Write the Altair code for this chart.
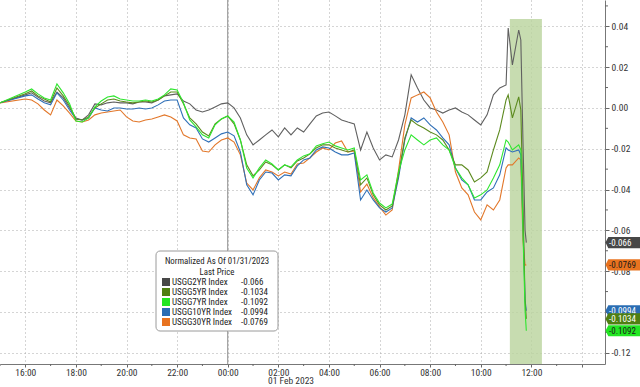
import altair as alt
import pandas as pd

# ---------------- data ----------------
times = [
    "2023-01-31 15:00", "2023-01-31 16:00", "2023-01-31 16:15", "2023-01-31 16:30", "2023-01-31 16:45",
    "2023-01-31 17:00", "2023-01-31 17:15", "2023-01-31 17:30", "2023-01-31 17:45",
    "2023-01-31 18:00", "2023-01-31 18:15", "2023-01-31 18:30", "2023-01-31 18:45",
    "2023-01-31 19:00", "2023-01-31 19:15", "2023-01-31 19:30", "2023-01-31 19:45",
    "2023-01-31 20:00", "2023-01-31 20:15", "2023-01-31 20:30", "2023-01-31 20:45",
    "2023-01-31 21:00", "2023-01-31 21:15", "2023-01-31 21:30", "2023-01-31 21:45",
    "2023-01-31 22:00", "2023-01-31 22:15", "2023-01-31 22:30", "2023-01-31 22:45",
    "2023-01-31 23:00", "2023-01-31 23:15", "2023-01-31 23:30", "2023-01-31 23:45",
    "2023-02-01 00:00", "2023-02-01 00:15", "2023-02-01 00:30", "2023-02-01 00:45",
    "2023-02-01 01:00", "2023-02-01 01:15", "2023-02-01 01:30", "2023-02-01 01:45",
    "2023-02-01 02:00", "2023-02-01 02:15", "2023-02-01 02:30", "2023-02-01 02:45",
    "2023-02-01 03:00", "2023-02-01 03:15", "2023-02-01 03:30", "2023-02-01 03:45",
    "2023-02-01 04:00", "2023-02-01 04:15", "2023-02-01 04:30", "2023-02-01 04:45",
    "2023-02-01 05:00", "2023-02-01 05:15", "2023-02-01 05:30", "2023-02-01 05:45",
    "2023-02-01 06:00", "2023-02-01 06:15", "2023-02-01 06:30", "2023-02-01 06:45",
    "2023-02-01 07:00", "2023-02-01 07:15", "2023-02-01 07:30", "2023-02-01 07:45",
    "2023-02-01 08:00", "2023-02-01 08:15", "2023-02-01 08:30", "2023-02-01 08:45",
    "2023-02-01 09:00", "2023-02-01 09:15", "2023-02-01 09:30", "2023-02-01 09:45",
    "2023-02-01 10:00", "2023-02-01 10:15", "2023-02-01 10:30", "2023-02-01 10:45",
    "2023-02-01 11:00", "2023-02-01 11:05", "2023-02-01 11:15", "2023-02-01 11:30",
    "2023-02-01 11:35", "2023-02-01 11:40", "2023-02-01 11:45", "2023-02-01 11:48",
]

usgg2yr = [
    0.0025, 0.0064, 0.0074, 0.0054, 0.0034, 0.0025, 0.0078, 0.0049, 0.0000,
    -0.0049, -0.0059, -0.0034, 0.0020, 0.0015, 0.0025, 0.0029, 0.0025,
    0.0025, 0.0020, 0.0029, 0.0029, 0.0025, 0.0039, 0.0059, 0.0064,
    0.0069, 0.0034, 0.0020, -0.0010, -0.0020, -0.0010, 0.0005, 0.0020,
    0.0025, 0.0000, -0.0049, -0.0132, -0.0181, -0.0157, -0.0132, -0.0108,
    -0.0142, -0.0098, -0.0132, -0.0098, -0.0118, -0.0078, -0.0039, -0.0025,
    -0.0020, -0.0039, -0.0059, -0.0069, -0.0078, -0.0206, -0.0118, -0.0196,
    -0.0255, -0.0230, -0.0240, -0.0157, -0.0034, 0.0162, 0.0098, 0.0039,
    0.0000, -0.0010, -0.0025, -0.0010, 0.0000, -0.0020, -0.0034, -0.0059,
    -0.0083, -0.0034, 0.0064, 0.0098, 0.0113, 0.0392, 0.0211, 0.0382,
    0.0333, -0.0157, -0.0598, -0.0660,
]
usgg5yr = [
    0.0025, 0.0069, 0.0083, 0.0059, 0.0044, 0.0029, 0.0098, 0.0059, 0.0010,
    -0.0054, -0.0059, -0.0044, 0.0000, 0.0020, 0.0039, 0.0044, 0.0034,
    0.0029, 0.0025, 0.0029, 0.0034, 0.0029, 0.0039, 0.0059, 0.0078,
    0.0078, 0.0020, -0.0049, -0.0078, -0.0118, -0.0137, -0.0078, -0.0054,
    -0.0039, -0.0078, -0.0157, -0.0279, -0.0333, -0.0304, -0.0265, -0.0279,
    -0.0304, -0.0279, -0.0294, -0.0260, -0.0245, -0.0225, -0.0196, -0.0181,
    -0.0181, -0.0196, -0.0206, -0.0216, -0.0206, -0.0377, -0.0343, -0.0426,
    -0.0475, -0.0500, -0.0480, -0.0328, -0.0147, -0.0059, -0.0083, -0.0098,
    -0.0118, -0.0132, -0.0157, -0.0206, -0.0279, -0.0279, -0.0304, -0.0363,
    -0.0343, -0.0314, -0.0206, -0.0108, 0.0039, 0.0064, -0.0049, 0.0054,
    -0.0010, -0.0451, -0.0941, -0.1034,
]
usgg7yr = [
    0.0025, 0.0078, 0.0093, 0.0069, 0.0049, 0.0039, 0.0118, 0.0074, 0.0020,
    -0.0064, -0.0069, -0.0049, 0.0005, 0.0034, 0.0054, 0.0059, 0.0044,
    0.0039, 0.0034, 0.0034, 0.0039, 0.0034, 0.0044, 0.0064, 0.0093,
    0.0088, 0.0025, -0.0059, -0.0093, -0.0132, -0.0147, -0.0083, -0.0054,
    -0.0039, -0.0069, -0.0157, -0.0294, -0.0343, -0.0294, -0.0255, -0.0275,
    -0.0304, -0.0279, -0.0289, -0.0255, -0.0235, -0.0225, -0.0186, -0.0176,
    -0.0167, -0.0186, -0.0196, -0.0206, -0.0196, -0.0353, -0.0328, -0.0417,
    -0.0466, -0.0490, -0.0471, -0.0314, -0.0206, -0.0132, -0.0157, -0.0181,
    -0.0157, -0.0147, -0.0181, -0.0206, -0.0294, -0.0343, -0.0377, -0.0441,
    -0.0426, -0.0402, -0.0343, -0.0279, -0.0157, -0.0167, -0.0206, -0.0181,
    -0.0206, -0.0598, -0.0990, -0.1092,
]
usgg10yr = [
    0.0025, 0.0059, 0.0064, 0.0044, 0.0025, 0.0015, 0.0074, 0.0039, -0.0010,
    -0.0054, -0.0059, -0.0049, 0.0000, -0.0010, -0.0015, 0.0000, 0.0000,
    -0.0005, -0.0005, 0.0000, -0.0005, 0.0000, 0.0015, 0.0034, 0.0039,
    0.0039, -0.0049, -0.0083, -0.0098, -0.0152, -0.0167, -0.0147, -0.0127,
    -0.0118, -0.0137, -0.0216, -0.0377, -0.0426, -0.0353, -0.0314, -0.0319,
    -0.0353, -0.0328, -0.0333, -0.0284, -0.0255, -0.0245, -0.0206, -0.0191,
    -0.0196, -0.0216, -0.0230, -0.0230, -0.0221, -0.0451, -0.0402, -0.0451,
    -0.0490, -0.0510, -0.0490, -0.0343, -0.0157, -0.0049, -0.0069, -0.0049,
    -0.0083, -0.0108, -0.0147, -0.0181, -0.0294, -0.0353, -0.0377, -0.0451,
    -0.0451, -0.0412, -0.0392, -0.0328, -0.0196, -0.0206, -0.0216, -0.0206,
    -0.0230, -0.0549, -0.0941, -0.0994,
]
usgg30yr = [
    0.0025, 0.0044, 0.0039, 0.0020, -0.0010, -0.0034, 0.0039, 0.0010, -0.0025,
    -0.0064, -0.0069, -0.0059, -0.0034, -0.0025, -0.0020, -0.0015, -0.0010,
    -0.0044, -0.0064, -0.0069, -0.0059, -0.0054, -0.0044, -0.0034, -0.0044,
    -0.0064, -0.0132, -0.0147, -0.0152, -0.0211, -0.0216, -0.0181, -0.0157,
    -0.0147, -0.0167, -0.0230, -0.0368, -0.0402, -0.0343, -0.0304, -0.0314,
    -0.0333, -0.0314, -0.0324, -0.0275, -0.0270, -0.0245, -0.0216, -0.0196,
    -0.0206, -0.0172, -0.0162, -0.0216, -0.0211, -0.0412, -0.0373, -0.0441,
    -0.0485, -0.0525, -0.0500, -0.0304, -0.0083, 0.0049, 0.0064, 0.0078,
    0.0049, -0.0020, -0.0069, -0.0132, -0.0314, -0.0392, -0.0426, -0.0510,
    -0.0549, -0.0475, -0.0500, -0.0451, -0.0294, -0.0279, -0.0279, -0.0245,
    -0.0255, -0.0647, -0.0770, -0.0769,
]

series_names = ["USGG2YR Index", "USGG5YR Index", "USGG7YR Index", "USGG10YR Index", "USGG30YR Index"]
series_values = [usgg2yr, usgg5yr, usgg7yr, usgg10yr, usgg30yr]
line_colors = ["#606060", "#5c8a1e", "#2ee62e", "#3070b8", "#e2772a"]
swatch_colors = ["#474747", "#4f7f12", "#22e622", "#2a6db3", "#e8731f"]
last_values = [-0.066, -0.1034, -0.1092, -0.0994, -0.0769]
last_labels = ["-0.066", "-0.1034", "-0.1092", "-0.0994", "-0.0769"]
tag_text_colors = ["white", "white", "#1a1a1a", "white", "#1a1a1a"]

legend_title = ["Normalized As Of 01/31/2023", "Last Price"]
date_label = "01 Feb 2023"

highlight_start = "2023-02-01 11:09"
highlight_end = "2023-02-01 12:25"
highlight_top = 0.0436

x_tick_hours = [-8, -6, -4, -2, 0, 2, 4, 6, 8, 10, 12, 14]
x_minor_hours = [-9, -7, -5, -3, -1, 1, 3, 5, 7, 9, 11, 13]
y_ticks = [0.04, 0.02, 0.0, -0.02, -0.04, -0.06, -0.08, -0.10, -0.12]
y_minor = [0.05, 0.03, 0.01, -0.01, -0.03, -0.05, -0.07, -0.09, -0.11]

# ---------------- helpers ----------------
ref = pd.Timestamp("2023-02-01 00:00")
def to_hours(ts):
    return (pd.to_datetime(ts) - ref) / pd.Timedelta(hours=1)

hours = list(to_hours(pd.Series(times)))

FONT = "Liberation Sans Narrow, Roboto Condensed, DejaVu Sans Condensed, Liberation Sans, sans-serif"
W, H = 605, 364
X_MIN, X_MAX = -9.0, 14.91
Y_MIN, Y_MAX = -0.1255, 0.0529

x_scale = alt.Scale(domain=[X_MIN, X_MAX], nice=False, zero=False)
y_scale = alt.Scale(domain=[Y_MIN, Y_MAX], nice=False, zero=False)

x_axis = alt.Axis(
    values=x_tick_hours, title=None, grid=True, gridDash=[1, 3], gridColor="#aaaaaa",
    labelExpr="datum.value == 14 ? '' : (datum.value < 0 ? format(datum.value + 24, '02d') : format(datum.value, '02d')) + ':00'",
    tickSize=3, tickColor="#666666", domainColor="#777777", labelPadding=0,
    labelFont=FONT, labelFontSize=9.5, labelColor="#333333", labelFlush=False,
)
y_axis = alt.Axis(
    orient="right", values=y_ticks, title=None, grid=True, gridDash=[1, 3], gridColor="#aaaaaa",
    labelExpr="replace(format(datum.value, '.2f'), '\u2212', '-')",
    tickSize=4, tickColor="#666666", domainColor="#777777", labelPadding=2,
    labelFont=FONT, labelFontSize=9.5, labelColor="#333333",
)

def xenc(field="h"):
    return alt.X(f"{field}:Q", scale=x_scale, axis=x_axis)

def yenc(field="v"):
    return alt.Y(f"{field}:Q", scale=y_scale, axis=y_axis)

layers = []

# highlight band
hl = pd.DataFrame({
    "h": [to_hours(highlight_start)], "h2": [to_hours(highlight_end)],
    "v": [highlight_top], "v2": [Y_MIN],
})
layers.append(alt.Chart(hl).mark_rect(color="#b9d39c", opacity=0.8).encode(
    x=xenc(), x2="h2:Q", y=yenc(), y2="v2:Q"))

# day separator
layers.append(alt.Chart(pd.DataFrame({"h": [0.0]})).mark_rule(color="#8c8c8c", strokeWidth=1).encode(x=xenc()))

# lines
draw_order = [0, 4, 3, 1, 2]
for i in draw_order:
    df = pd.DataFrame({"h": hours, "v": series_values[i]})
    layers.append(alt.Chart(df).mark_line(color=line_colors[i], strokeWidth=1.1).encode(x=xenc(), y=yenc()))

# minor ticks
layers.append(alt.Chart(pd.DataFrame({"h": x_minor_hours})).mark_rule(color="#666666").encode(
    x=xenc(), y=alt.value(H), y2=alt.value(H + 2)))
layers.append(alt.Chart(pd.DataFrame({"v": y_minor})).mark_rule(color="#666666").encode(
    y=yenc(), x=alt.value(W), x2=alt.value(W + 3)))

# right-side last-value tags
tag_order = [0, 4, 3, 1, 2]
tags = pd.DataFrame({
    "v": [last_values[i] for i in tag_order],
    "label": [last_labels[i] for i in tag_order],
    "fill": [swatch_colors[i] for i in tag_order],
    "tc": [tag_text_colors[i] for i in tag_order],
})
tag_shape = "M-1,0L-0.84,-0.32L1,-0.32L1,0.32L-0.84,0.32Z"
for k in range(len(tags)):
    row = tags.iloc[[k]]
    layers.append(alt.Chart(row).mark_point(shape=tag_shape, filled=True, size=1225, opacity=1, strokeWidth=0).encode(
        x=alt.value(623), y=yenc(), color=alt.Color("fill:N", scale=None)))
    layers.append(alt.Chart(row).mark_text(align="left", baseline="middle", font=FONT, fontSize=9).encode(
        x=alt.value(609), y=yenc(), text="label:N", color=alt.Color("tc:N", scale=None)))

# legend box
one = pd.DataFrame({"a": [0]})
layers.append(alt.Chart(one).mark_rect(fill="white", stroke="#9a9a9a", strokeWidth=1, cornerRadius=4).encode(
    x=alt.value(156), x2=alt.value(278), y=alt.value(251), y2=alt.value(331)))
layers.append(alt.Chart(one).mark_text(text=legend_title[0], align="center", baseline="middle", font=FONT,
                                        fontSize=8.8, color="#222222").encode(x=alt.value(217), y=alt.value(261)))
layers.append(alt.Chart(one).mark_text(text=legend_title[1], align="center", baseline="middle", font=FONT,
                                        fontSize=8.8, color="#222222").encode(x=alt.value(217), y=alt.value(271.5)))
for i, name in enumerate(series_names):
    yc = 282 + 10 * i
    layers.append(alt.Chart(one).mark_rect(color=swatch_colors[i]).encode(
        x=alt.value(162), x2=alt.value(170), y=alt.value(yc - 4), y2=alt.value(yc + 4)))
    layers.append(alt.Chart(one).mark_text(text=name, align="left", baseline="middle", font=FONT,
                                            fontSize=9, color="#222222").encode(x=alt.value(172), y=alt.value(yc)))
    layers.append(alt.Chart(one).mark_text(text=last_labels[i], align="left",
                                            baseline="middle", font=FONT, fontSize=9, color="#222222").encode(
        x=alt.value(241), y=alt.value(yc)))

# date label
layers.append(alt.Chart(one).mark_text(text=date_label, align="center", baseline="middle", font=FONT,
                                        fontSize=9.5, color="#333333").encode(x=alt.value(291), y=alt.value(381)))

chart = alt.layer(*layers).properties(
    width=W, height=H, background="white",
    padding={"left": 0, "top": 0, "right": 35, "bottom": 23},
    autosize=alt.AutoSizeParams(type="none"),
).configure_view(stroke=None)

chart.save("out.html", embed_options={"renderer": "svg", "actions": False})
